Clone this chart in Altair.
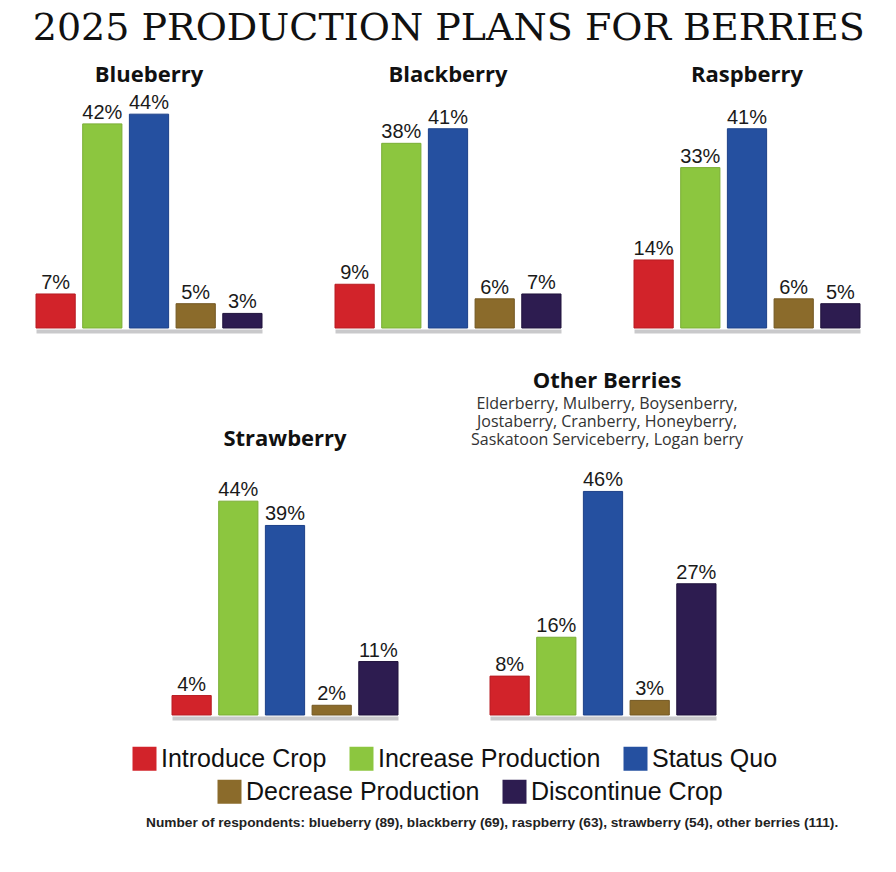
import altair as alt
import pandas as pd

# Survey answers, in the order the bars are drawn
categories = ["Introduce Crop", "Increase Production", "Status Quo",
              "Decrease Production", "Discontinue Crop"]
colors = ["#d2232a", "#8cc63f", "#2550a0", "#8b6b2b", "#2d1c50"]
edges = ["#b81c22", "#7aae35", "#1d4088", "#735823", "#20133c"]
legend_rows = [1, 1, 1, 2, 2]

# Share of respondents (%) per berry
blueberry = [7, 42, 44, 5, 3]
blackberry = [9, 38, 41, 6, 7]
raspberry = [14, 33, 41, 6, 5]
strawberry = [4, 44, 39, 2, 11]
other_berries = [8, 16, 46, 3, 27]

other_kinds = ["Elderberry, Mulberry, Boysenberry,",
               "Jostaberry, Cranberry, Honeyberry,",
               "Saskatoon Serviceberry,  Logan berry"]

respondents_note = ("Number of respondents: blueberry (89), blackberry (69), "
                    "raspberry (63), strawberry (54), other berries (111).")

PANEL_W = 226
PANEL_H = 243
SANS = "Open Sans"


def panel(name, values, title_offset, subtitle=None):
    df = pd.DataFrame({"category": categories, "value": values})
    base = alt.Chart(df).encode(
        x=alt.X("category:N", sort=categories,
                scale=alt.Scale(paddingInner=0.16, paddingOuter=0),
                axis=alt.Axis(title=None, labels=False, ticks=False, grid=False,
                              domainColor="#c9c9cb", domainWidth=4, offset=3)),
        y=alt.Y("value:Q", scale=alt.Scale(domain=[0, 50]), axis=None),
    )
    bars = base.mark_bar(strokeWidth=1).encode(
        color=alt.Color("category:N",
                        scale=alt.Scale(domain=categories, range=colors),
                        legend=None),
        stroke=alt.Stroke("category:N",
                          scale=alt.Scale(domain=categories, range=edges),
                          legend=None),
    )
    labels = base.transform_calculate(
        label="datum.value + '%'"
    ).mark_text(baseline="alphabetic", dy=-5, fontSize=20,
                font="Liberation Sans", color="#1a1a1a").encode(
        text=alt.Text("label:N")
    )
    title_kwargs = dict(text=name, fontSize=22, font=SANS, fontWeight="bold",
                        color="#111111", anchor="middle", offset=title_offset)
    if subtitle:
        title_kwargs.update(subtitle=subtitle, subtitleFont=SANS,
                            subtitleFontSize=16, subtitleColor="#333333",
                            subtitlePadding=3, subtitleLineHeight=18, dx=4)
    return alt.layer(bars, labels).properties(
        width=PANEL_W, height=PANEL_H, title=alt.TitleParams(**title_kwargs))


top_row = alt.hconcat(
    panel("Blueberry", blueberry, -2),
    panel("Blackberry", blackberry, -2),
    panel("Raspberry", raspberry, -2),
    spacing=73, bounds="flush",
)

spacer = alt.Chart(pd.DataFrame({"v": [0]})).mark_point(
    opacity=0, size=1
).encode(x=alt.value(10), y=alt.value(10)).properties(width=44, height=PANEL_H)

bottom_row = alt.hconcat(
    spacer,
    panel("Strawberry", strawberry, 21),
    panel("Other Berries", other_berries, 21, subtitle=other_kinds),
    spacing=92, bounds="flush",
)

legend_df = pd.DataFrame({"category": categories, "row": legend_rows})


def legend_layer(row, legend_x, legend_y):
    cats = [c for c, r in zip(categories, legend_rows) if r == row]
    cols = [k for k, r in zip(colors, legend_rows) if r == row]
    return alt.Chart(legend_df).transform_filter(
        alt.datum.row == row
    ).mark_square(opacity=0, size=1).encode(
        x=alt.value(10), y=alt.value(10),
        color=alt.Color(
            "category:N",
            scale=alt.Scale(domain=cats, range=cols),
            legend=alt.Legend(
                title=None, orient="none", legendX=legend_x, legendY=legend_y,
                direction="horizontal", symbolType="square", symbolSize=576,
                symbolOpacity=1, symbolStrokeWidth=0,
                labelFont="Liberation Sans", labelFontSize=25,
                labelColor="#111111", labelOffset=4, labelLimit=400,
                columnPadding=22, padding=0),
        ),
    )


legend_chart = alt.layer(
    legend_layer(1, 96, 0), legend_layer(2, 181, 33)
).resolve_scale(color="independent").properties(
    width=826, height=56,
    title=alt.TitleParams(respondents_note, orient="bottom", anchor="start",
                          dx=110, offset=11, fontSize=13.7,
                          font="Liberation Sans Narrow, Liberation Sans",
                          fontWeight="bold", color="#222222"),
)

rows = alt.vconcat(top_row, bottom_row, spacing=39)

chart = alt.vconcat(rows, legend_chart, spacing=28).properties(
    title=alt.TitleParams("2025 PRODUCTION PLANS FOR BERRIES",
                          font="DejaVu Serif", fontSize=38,
                          fontWeight="normal", color="#111111",
                          anchor="middle", offset=16),
    padding={"left": 32, "top": 10, "right": 5, "bottom": 5},
).configure(background="white").configure_view(stroke=None)

chart.save("out.html", embed_options={"renderer": "svg", "actions": False})
